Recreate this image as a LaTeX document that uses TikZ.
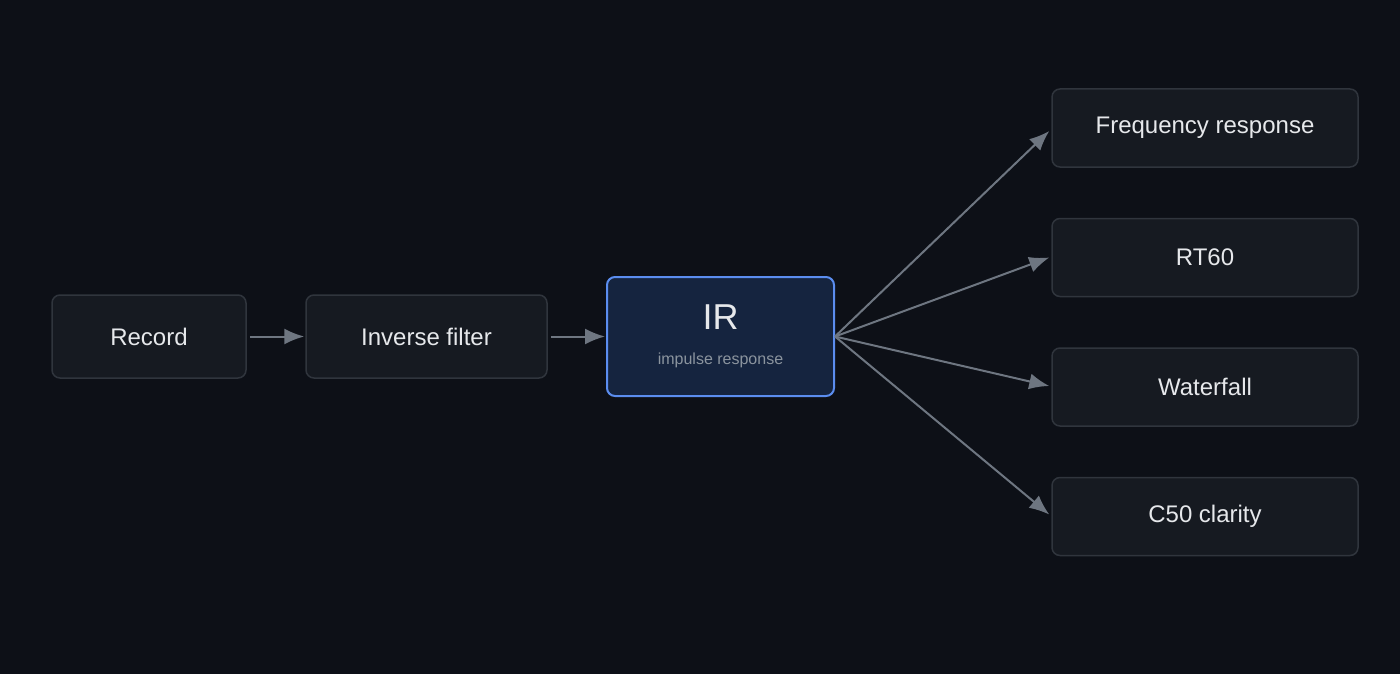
\documentclass[tikz,border=0pt]{standalone}
\usepackage{fontspec}
\setmainfont{Liberation Sans}
\usetikzlibrary{arrows.meta}
\definecolor{bg}{HTML}{0D1017}
\definecolor{boxfill}{HTML}{161A21}
\definecolor{boxline}{HTML}{30353D}
\definecolor{txt}{HTML}{E6E8EB}
\definecolor{arr}{HTML}{6E7681}
\definecolor{irfill}{HTML}{15243F}
\definecolor{irline}{HTML}{5B8DEF}
\definecolor{sub}{HTML}{8B949E}
\begin{document}
\begin{tikzpicture}[x=1pt,y=-1pt,
  box/.style={draw=boxline,line width=1.5pt,fill=boxfill,rounded corners=8pt,text=txt,font=\fontsize{24}{28}\selectfont,inner sep=0pt},
  con/.style={draw=arr,line width=2pt,-{Latex[length=20pt,width=16pt]}}]
\fill[bg] (0,0) rectangle (1400,674);
\useasboundingbox (0,0) rectangle (1400,674);
\node[box,minimum width=194pt,minimum height=83pt] (rec) at (149,336.5) {Record};
\node[box,minimum width=241pt,minimum height=83pt] (inv) at (426.5,336.5) {Inverse filter};
\node[box,draw=irline,fill=irfill,line width=2pt,minimum width=227pt,minimum height=119pt] (ir) at (720.5,336.5) {};
\node[text=txt,font=\fontsize{36}{40}\selectfont] (irt) at (720.5,317) {IR};
\node[text=sub,font=\fontsize{16}{18}\selectfont] (irs) at (720.5,360) {impulse response};
\node[box,minimum width=306pt,minimum height=78pt] (fr) at (1205,128) {Frequency response};
\node[box,minimum width=306pt,minimum height=78pt] (rt) at (1205,257.5) {RT60};
\node[box,minimum width=306pt,minimum height=78pt] (wf) at (1205,387) {Waterfall};
\node[box,minimum width=306pt,minimum height=78pt] (c50) at (1205,516.5) {C50 clarity};
\draw[con] ([xshift=3pt]rec.east) -- ([xshift=-1pt]inv.west);
\draw[con] ([xshift=3pt]inv.east) -- ([xshift=-1pt]ir.west);
\draw[con] (ir.east) -- ([xshift=-2pt,yshift=-3pt]fr.west);
\draw[con] (ir.east) -- ([xshift=-2pt]rt.west);
\draw[con] (ir.east) -- ([xshift=-2pt,yshift=1pt]wf.west);
\draw[con] (ir.east) -- ([xshift=-2pt,yshift=2pt]c50.west);
\end{tikzpicture}
\end{document}
